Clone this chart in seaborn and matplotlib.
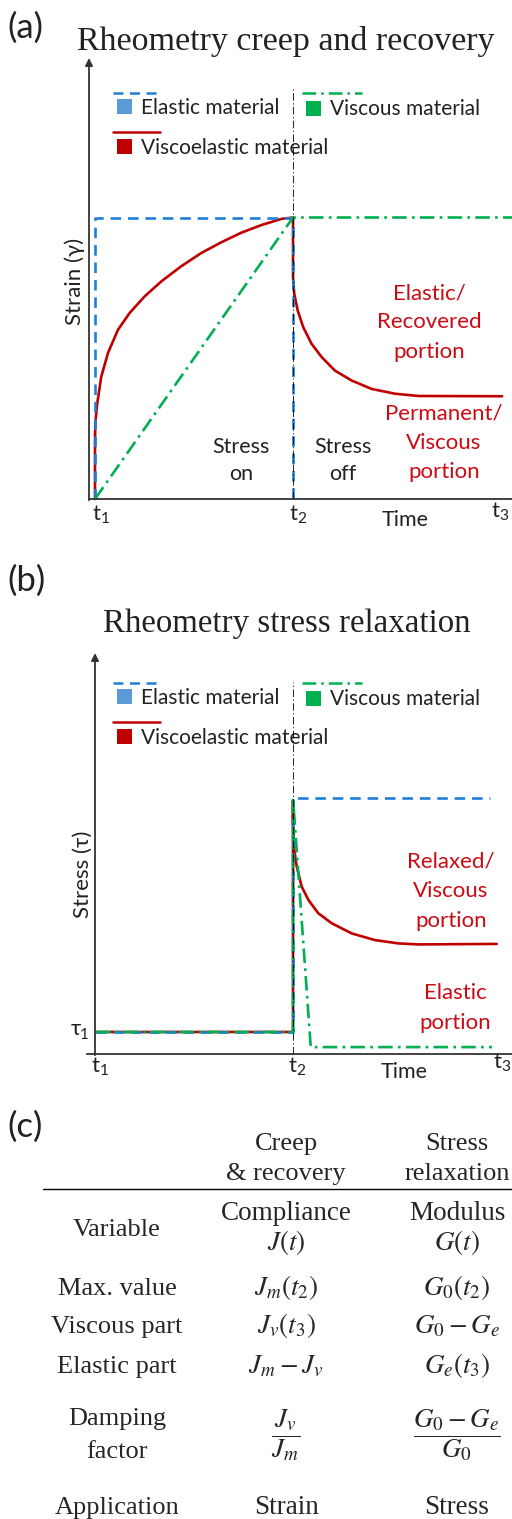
import matplotlib
matplotlib.use('Agg')
import matplotlib.pyplot as plt
from matplotlib.patches import Rectangle
import seaborn as sns

W, H = 512, 1519

# time in units where t1 = 0, t2 = 1, t3 = 2
# (a) creep and recovery, strain normalised to the elastic plateau
creep_t_elastic = [0, 0, 1, 1]
creep_y_elastic = [0, 1, 1, 0]
creep_t_viscous = [0, 1, 2.11]
creep_y_viscous = [0, 1, 1]
creep_t_visco = [0, 0, 0.0015, 0.0116, 0.0318, 0.0657, 0.116, 0.175, 0.251, 0.335,
                 0.436, 0.537, 0.638, 0.739, 0.840, 0.941, 1.0,
                 1.0, 1.0, 1.0066, 1.024, 1.052, 1.094, 1.145, 1.212, 1.296,
                 1.397, 1.515, 1.633, 2.056]
creep_y_visco = [0, 0.210, 0.269, 0.341, 0.435, 0.519, 0.601, 0.661, 0.720, 0.773,
                 0.827, 0.874, 0.912, 0.946, 0.973, 0.995, 1.0,
                 0.907, 0.787, 0.728, 0.669, 0.610, 0.551, 0.504, 0.456, 0.421,
                 0.391, 0.374, 0.366, 0.365]

# (b) stress relaxation, stress normalised to the elastic plateau
tau1 = 0.086
relax_t_elastic = [0, 1, 1, 2.0]
relax_y_elastic = [tau1, tau1, 1.0, 1.0]
relax_t_viscous = [0, 1, 1, 1.09, 2.01]
relax_y_viscous = [tau1, tau1, 1.0, 0.027, 0.027]
relax_t_visco = [0, 1, 1, 1.0, 1.0066, 1.019, 1.044, 1.078, 1.128, 1.196, 1.298,
                 1.416, 1.535, 1.636, 2.034]
relax_y_visco = [tau1, tau1, 0.99, 0.901, 0.797, 0.732, 0.654, 0.602, 0.550, 0.511,
                 0.471, 0.445, 0.432, 0.428, 0.43]

legend_names = ['Elastic material', 'Viscous material', 'Viscoelastic material']

# (c) table
table_header = ['Creep\n& recovery', 'Stress\nrelaxation']
row_labels = ['Variable', 'Max. value', 'Viscous part', 'Elastic part',
              'Damping\nfactor', 'Application']
creep_col = ['Compliance\n$J(t)$', '$J_m(t_2)$', '$J_v(t_3)$', '$J_m - J_v$',
             r'$\dfrac{J_v}{J_m}$', 'Strain']
relax_col = ['Modulus\n$G(t)$', '$G_0(t_2)$', '$G_0 - G_e$', '$G_e(t_3)$',
             r'$\dfrac{G_0 - G_e}{G_0}$', 'Stress']

sns.set_style('white')
SANS = ['Lato', 'DejaVu Sans']
SERIF = ['Liberation Serif', 'DejaVu Serif']
plt.rcParams['font.family'] = SANS
plt.rcParams['mathtext.fontset'] = 'stix'

BLUE = '#1f7fd6'
BLUE_SQ = '#5b9bd5'
GREEN = '#00b050'
RED = '#c00000'
RED_TXT = '#cc0a14'
AXIS = '#333333'
TXT = '#222222'
DASH = (0, (4, 2.6))
DASHDOT = (0, (5.5, 2, 1, 2))
GUIDE = (0, (9, 3, 1.5, 3))

fig = plt.figure(figsize=(W / 100, H / 100), dpi=100)


def box(l, t, r, b):
    return [l / W, 1 - b / H, (r - l) / W, (b - t) / H]


ov = fig.add_axes([0, 0, 1, 1])
ov.set_xlim(0, W)
ov.set_ylim(H, 0)
ov.axis('off')


def lines(ax, x, y, color, ls, lw=1.9):
    sns.lineplot(x=x, y=y, ax=ax, color=color, linestyle=ls, lw=lw,
                 sort=False, estimator=None, errorbar=None, clip_on=False,
                 solid_joinstyle='round')


def finish(ax, xlim, ylim, yaxis_frac, guide_top):
    lines(ax, [1, 1], [0, guide_top], 'black', GUIDE, lw=0.6)
    ax.set_xlim(*xlim)
    ax.set_ylim(*ylim)
    for s in ['top', 'right', 'left']:
        ax.spines[s].set_visible(False)
    ax.spines['bottom'].set_color(AXIS)
    ax.spines['bottom'].set_linewidth(1.3)
    ax.set_xticks([])
    ax.set_yticks([])
    ax.set_xlabel('')
    ax.set_ylabel('')
    ax.annotate('', xy=(yaxis_frac, 1), xytext=(yaxis_frac, -0.003),
                xycoords='axes fraction',
                arrowprops=dict(arrowstyle='-|>', color=AXIS, lw=1.3,
                                mutation_scale=11, shrinkA=0, shrinkB=0))


def legend(dy):
    ov.plot([113, 158], [92.7 + dy] * 2, color=BLUE, lw=1.8, linestyle=DASH)
    ov.add_patch(Rectangle((117, 99 + dy), 15, 15, color=BLUE_SQ, lw=0))
    ov.text(141, 114 + dy, legend_names[0], fontsize=15, va='baseline', color=TXT)
    ov.plot([302, 362], [93 + dy] * 2, color=GREEN, lw=1.8, linestyle=DASHDOT)
    ov.add_patch(Rectangle((306, 101 + dy), 15, 15, color=GREEN, lw=0))
    ov.text(330, 115 + dy, legend_names[1], fontsize=15, va='baseline', color=TXT)
    ov.plot([113, 160], [132 + dy] * 2, color=RED, lw=1.8)
    ov.add_patch(Rectangle((117, 139 + dy), 15, 15, color=RED, lw=0))
    ov.text(141, 154 + dy, legend_names[2], fontsize=15, va='baseline', color=TXT)


def stacked(x, y0, step, text, **kw):
    for i, line in enumerate(text.split('\n')):
        ov.text(x, y0 + i * step, line, ha='center', va='baseline', **kw)


def tlabel(x, y, n):
    ov.text(x, y, r'$\mathregular{t_%d}$' % n, fontsize=16, ha='center',
            va='baseline', color=TXT)


# ---- (a) creep and recovery ----
ax1 = fig.add_axes(box(89, 58, 512, 499))
ax1.set_facecolor('none')
lines(ax1, creep_t_visco, creep_y_visco, RED, '-')
lines(ax1, creep_t_elastic, creep_y_elastic, BLUE, DASH)
lines(ax1, creep_t_viscous, creep_y_viscous, GREEN, DASHDOT)
finish(ax1, (-6 / 198, 417 / 198), (0, 441 / 281.5), 0, 1.463)

ov.text(7, 28, '(a)', fontsize=25, va='center', ha='left', color=TXT)
ov.text(286, 50, 'Rheometry creep and recovery', fontsize=24.5, family=SERIF,
        ha='center', va='baseline', color=TXT)
legend(0)
ov.text(75, 281, 'Strain (γ)', fontsize=16, rotation=90, ha='center', va='center',
        color=TXT)
stacked(241, 453, 27, 'Stress\non', fontsize=15.5, color=TXT)
stacked(343, 453, 27, 'Stress\noff', fontsize=15.5, color=TXT)
stacked(429, 299, 29.5, 'Elastic/\nRecovered\nportion', fontsize=16, color=RED_TXT)
stacked(444, 420, 29, 'Permanent/\nViscous\nportion', fontsize=16, color=RED_TXT)
tlabel(101, 521, 1)
tlabel(298, 521, 2)
ov.text(405, 526, 'Time', fontsize=15.5, ha='center', va='baseline', color=TXT)
tlabel(500, 518, 3)

# ---- (b) stress relaxation ----
ax2 = fig.add_axes(box(87, 653, 512, 1054))
ax2.set_facecolor('none')
lines(ax2, relax_t_visco, relax_y_visco, RED, '-')
lines(ax2, relax_t_elastic, relax_y_elastic, BLUE, DASH)
lines(ax2, relax_t_viscous, relax_y_viscous, GREEN, DASHDOT)
finish(ax2, (-9 / 197, 416 / 197), (0, 401 / 256), 8 / 425, 1.453)

ov.text(7, 581, '(b)', fontsize=25, va='center', ha='left', color=TXT)
ov.text(287, 632, 'Rheometry stress relaxation', fontsize=23.7, family=SERIF,
        ha='center', va='baseline', color=TXT)
legend(590)
ov.text(83, 874, 'Stress (τ)', fontsize=16, rotation=90, ha='center', va='center',
        color=TXT)
ov.text(76, 1035, 'τ', fontsize=16, ha='center', va='baseline', color=TXT)
ov.text(84.5, 1039, '1', fontsize=11, ha='center', va='baseline', color=TXT)
stacked(451, 867, 30, 'Relaxed/\nViscous\nportion', fontsize=16, color=RED_TXT)
stacked(455, 999, 30, 'Elastic\nportion', fontsize=16, color=RED_TXT)
tlabel(100, 1073, 1)
tlabel(297, 1073, 2)
ov.text(404, 1078, 'Time', fontsize=15.5, ha='center', va='baseline', color=TXT)
tlabel(502, 1069, 3)

# ---- (c) table ----
ov.text(7, 1127, '(c)', fontsize=25, va='center', ha='left', color=TXT)
col_x = [117, 286, 457]
stacked(col_x[1], 1150, 30, table_header[0], fontsize=19, family=SERIF)
stacked(col_x[2], 1150, 30, table_header[1], fontsize=19, family=SERIF)
ov.plot([43, 512], [1189, 1189], color='black', lw=1.0)

row_base = [1236, 1295, 1333, 1373, 1425, 1514]
for i, lab in enumerate(row_labels):
    if i == 0:
        stacked(col_x[0], row_base[i], 30, lab, fontsize=19, family=SERIF)
        stacked(col_x[1], 1220, 30, creep_col[i], fontsize=19.5, family=SERIF)
        stacked(col_x[2], 1220, 30, relax_col[i], fontsize=19.5, family=SERIF)
    elif i == 4:
        stacked(col_x[0], row_base[i], 33, lab, fontsize=19, family=SERIF)
        ov.text(col_x[1], 1435, creep_col[i], fontsize=19.5, family=SERIF,
                ha='center', va='center')
        ov.text(col_x[2], 1435, relax_col[i], fontsize=19.5, family=SERIF,
                ha='center', va='center')
    else:
        stacked(col_x[0], row_base[i], 30, lab, fontsize=19, family=SERIF)
        stacked(col_x[1], row_base[i], 30, creep_col[i], fontsize=19.5, family=SERIF)
        stacked(col_x[2], row_base[i], 30, relax_col[i], fontsize=19.5, family=SERIF)

fig.savefig('out.png', dpi=100)
